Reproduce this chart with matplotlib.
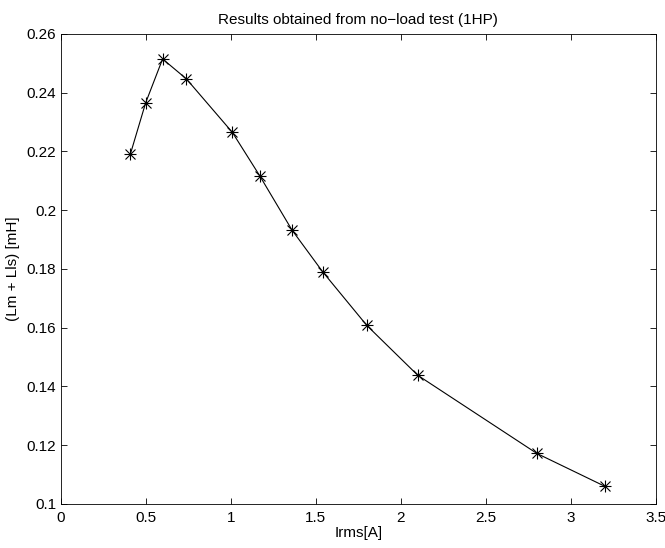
import matplotlib
matplotlib.use('Agg')
import matplotlib.pyplot as plt

# No-load test results (1HP)
irms = [0.41, 0.50, 0.60, 0.74, 1.01, 1.17, 1.36, 1.54, 1.80, 2.10, 2.80, 3.20]
lm_lls = [0.2190, 0.2365, 0.2515, 0.2447, 0.2265, 0.2118, 0.1933, 0.1791,
          0.1608, 0.1438, 0.1172, 0.1060]

x_ticks = [0, 0.5, 1, 1.5, 2, 2.5, 3, 3.5]
y_ticks = [0.1, 0.12, 0.14, 0.16, 0.18, 0.2, 0.22, 0.24, 0.26]

plt.rcParams['font.family'] = ['Liberation Sans', 'DejaVu Sans']
plt.rcParams['font.size'] = 11

fig = plt.figure(figsize=(6.65, 5.48), dpi=100)
ax = fig.add_axes([0.0910, 0.0803, 0.8955, 0.8577])
ax.plot(irms, lm_lls, color='black', linewidth=0.8)
# matlab-style asterisk = plus + cross
ax.plot(irms, lm_lls, linestyle='none', marker='+', color='black',
        markersize=8, markeredgewidth=0.8)
ax.plot(irms, lm_lls, linestyle='none', marker='x', color='black',
        markersize=6.5, markeredgewidth=0.8)

ax.set_xlim(0, 3.5)
ax.set_ylim(0.1, 0.26)
ax.set_xticks(x_ticks)
ax.set_xticklabels([f'{t:g}' for t in x_ticks])
ax.set_yticks(y_ticks)
ax.set_yticklabels([f'{t:g}' for t in y_ticks])
ax.tick_params(direction='in', top=True, right=True, length=4.5, width=0.6)
ax.tick_params(axis='x', pad=5)
ax.tick_params(axis='y', pad=3)
for s in ax.spines.values():
    s.set_linewidth(0.6)

ax.set_title('Results obtained from no\u2212load test (1HP)', fontsize=11, pad=7)
ax.set_xlabel('Irms[A]', labelpad=1)
ax.set_ylabel('(Lm + Lls) [mH]', labelpad=5)

fig.savefig('out.png', dpi=100)
